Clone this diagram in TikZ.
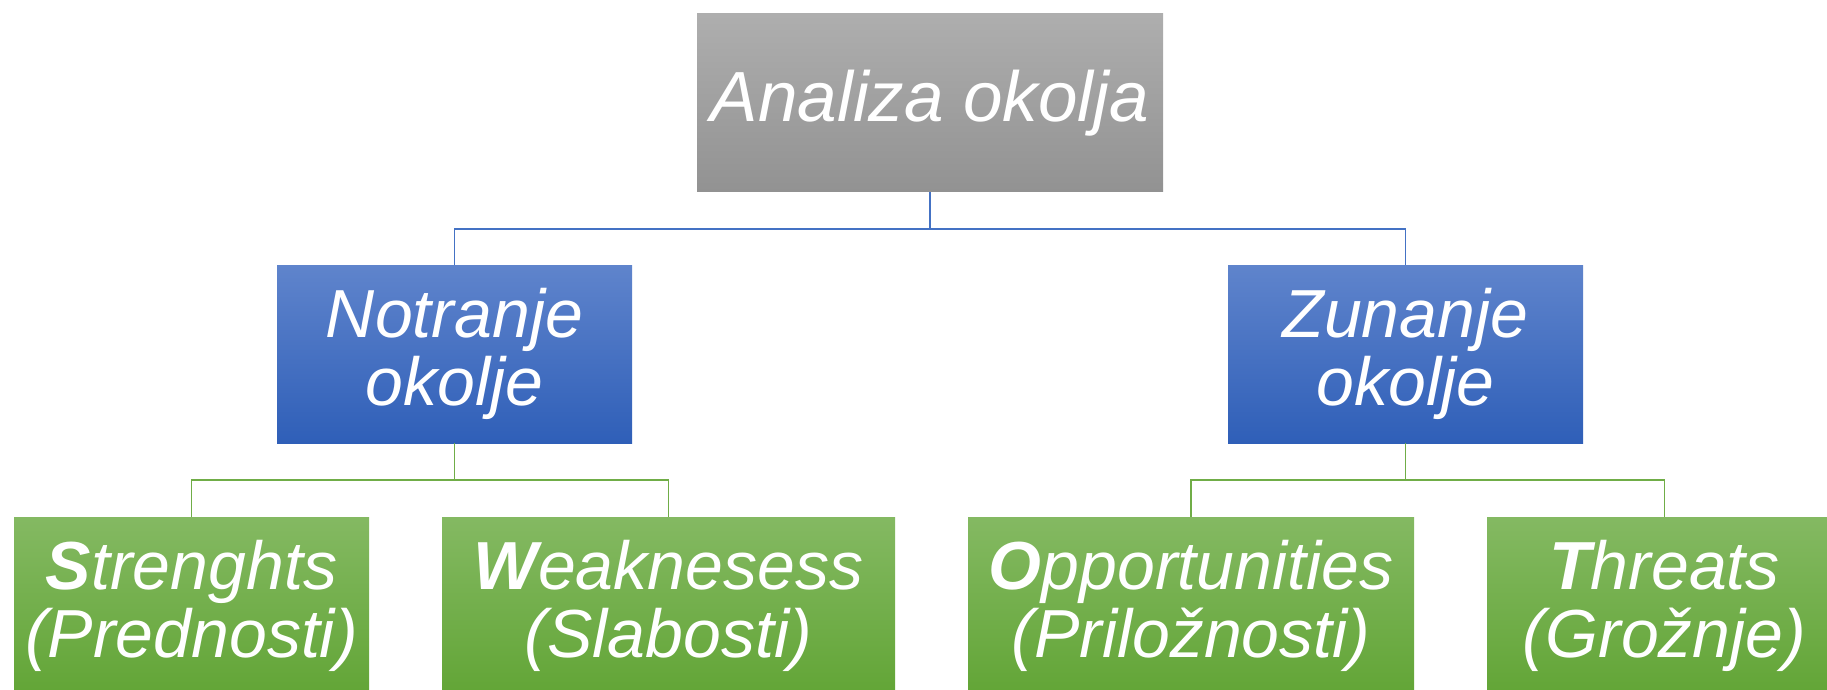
\documentclass[tikz,border=0pt]{standalone}
\usepackage{fontspec}
\setmainfont{Liberation Sans}
\definecolor{greyT}{HTML}{AEAEAE}
\definecolor{greyB}{HTML}{929292}
\definecolor{blueT}{HTML}{5F84CC}
\definecolor{blueB}{HTML}{2F5FB8}
\definecolor{greenT}{HTML}{84B962}
\definecolor{greenB}{HTML}{62A536}
\definecolor{blueLine}{HTML}{4472C4}
\definecolor{greenLine}{HTML}{70AD47}
\tikzset{
  box/.style={rectangle, inner sep=0pt, text=white, align=center,
    font=\itshape\fontsize{34}{34}\selectfont, minimum height=89pt},
  greybox/.style={box, top color=greyT, bottom color=greyB},
  bluebox/.style={box, top color=blueT, bottom color=blueB},
  greenbox/.style={box, top color=greenT, bottom color=greenB},
  blueconn/.style={draw=blueLine, line width=0.7pt},
  greenconn/.style={draw=greenLine, line width=0.7pt},
}
\begin{document}
\begin{tikzpicture}[x=0.5pt, y=-0.5pt]
\useasboundingbox (0,0) rectangle (1827,690);
\clip (0,0) rectangle (1827,690);
\node[greybox, minimum width=233pt, font=\itshape\fontsize{35.5}{35.5}\selectfont] (top) at (930,103) {Analiza okolja};
\node[bluebox, minimum width=177.5pt] (notr) at (454.5,354) {Notranje\\okolje};
\node[bluebox, minimum width=177.5pt] (zun) at (1405.5,354) {Zunanje\\okolje};
\node[greenbox, minimum width=177.5pt] (S) at (191.5,606) {{\bfseries S}trenghts\\(Prednosti)};
\node[greenbox, minimum width=226.5pt] (W) at (668.5,606) {{\bfseries W}eaknesess\\(Slabosti)};
\node[greenbox, minimum width=223pt] (O) at (1191,606) {{\bfseries O}pportunities\\(Priložnosti)};
\node[greenbox, minimum width=177.5pt] (T) at (1664.5,606) {{\bfseries T}hreats\\(Grožnje)};
\coordinate (j1) at (930,229);
\coordinate (j2) at (454.5,480);
\coordinate (j3) at (1405.5,480);
\draw[blueconn] (top.south) -- (j1) -| (notr.north);
\draw[blueconn] (j1) -| (zun.north);
\draw[greenconn] (notr.south) -- (j2) -| (S.north);
\draw[greenconn] (j2) -| (W.north);
\draw[greenconn] (zun.south) -- (j3) -| (O.north);
\draw[greenconn] (j3) -| (T.north);
\end{tikzpicture}
\end{document}
